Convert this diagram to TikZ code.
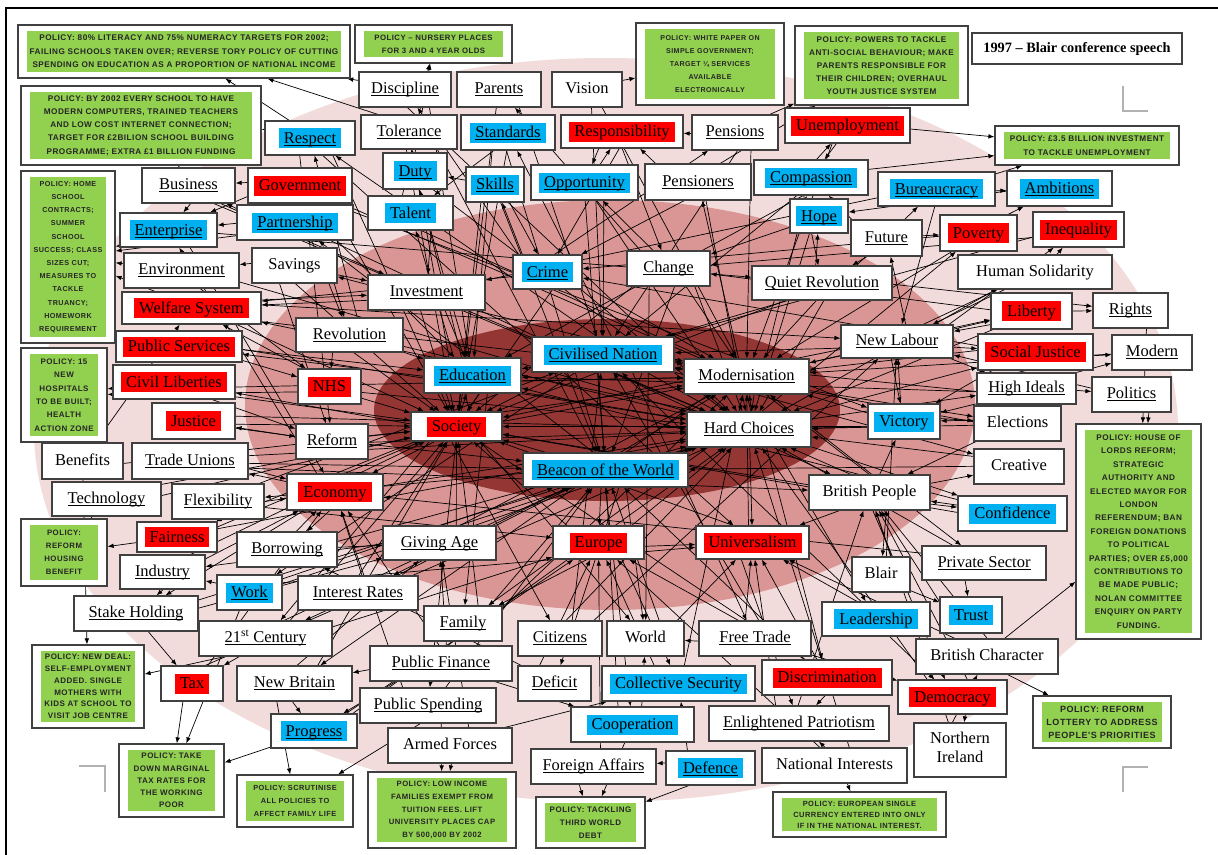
\documentclass[tikz,border=0pt]{standalone}
\usepackage{fontspec}
\setmainfont{Liberation Serif}
\newfontfamily\polfont[LetterSpace=6]{Liberation Sans}
\usetikzlibrary{arrows.meta}

\definecolor{hlblue}{HTML}{00B0F0}
\definecolor{hlred}{HTML}{FF0000}
\definecolor{polgreen}{HTML}{92D050}
\definecolor{ringA}{HTML}{F2DCDB}
\definecolor{ringB}{HTML}{D99694}
\definecolor{ringC}{HTML}{943634}
\definecolor{boxline}{HTML}{404040}

\pgfdeclarelayer{bg}
\pgfdeclarelayer{edges}
\pgfsetlayers{bg,edges,main}

% underlined word, rule just below the baseline
\newcommand\undl[1]{\setbox0\hbox{#1}\rlap{\rule[-2.4pt]{\wd0}{0.9pt}}\box0}
% coloured highlight behind a word
\newcommand\hlc[2]{{\setlength\fboxsep{0pt}\colorbox{#1}{\rule[-5pt]{0pt}{20pt}\hspace{5pt}#2\hspace{5pt}}}}
\newcommand\hlB[1]{\hlc{hlblue}{#1}}
\newcommand\hlR[1]{\hlc{hlred}{#1}}

% concept box given by its corners: [options]{name}{x1}{y1}{x2}{y2}{text}
\newcommand\cn[7][]{\node[cbox,#1,minimum width={(#5)-(#3)},minimum height={(#6)-(#4)}] (#2) at ({((#3)+(#5))/2},{((#4)+(#6))/2}) {#7};}
% policy box: [{size}{baselineskip}]{name}{x1}{y1}{x2}{y2}{text}
\newcommand\pol[7][{7}{13}]{%
  \node[pbox,minimum width={(#5)-(#3)},minimum height={(#6)-(#4)}] (#2) at ({((#3)+(#5))/2},{((#4)+(#6))/2}) {};
  \node[pgreen,font=\polfont\bfseries\fontsize#1\selectfont,minimum width={(#5)-(#3)-18},minimum height={(#6)-(#4)-12}] (#2-in) at (#2.center) {#7};}

\begin{document}
\begin{tikzpicture}[x=1pt,y=-1pt,
  cbox/.style={draw=boxline,line width=1.2pt,fill=white,inner sep=0pt,
    font=\fontsize{16.5}{19}\selectfont,
    execute at begin node={\vrule width 0pt height 12.5pt depth 4.5pt\relax}},
  pbox/.style={draw=boxline,line width=1.2pt,fill=white,inner sep=0pt},
  pgreen/.style={fill=polgreen,inner sep=0pt,align=center,text=black!85},
  arr/.style={-{Latex[length=6pt,width=4.6pt]},line width=0.7pt,black},
  corner/.style={draw=black!30,line width=1.3pt}]

\useasboundingbox (0,0) rectangle (1218,854);

% paper and nested rings
\begin{pgfonlayer}{bg}
\fill[white] (0,0) rectangle (1218,854);
\fill[ringA] (606,430) ellipse [x radius=572pt, y radius=372pt];
\fill[ringB] (610,405) ellipse [x radius=365pt, y radius=205pt];
\fill[ringC] (607,410) ellipse [x radius=233pt, y radius=91pt];
\end{pgfonlayer}

% page frame and crop marks
\draw[line width=2.6pt] (6,870) -- (6,8) -- (1230,8);
\draw[corner] (1123,86) -- (1123,111) -- (1148,111);
\draw[corner] (79,766) -- (105,766) -- (105,792);
\draw[corner] (1123,792) -- (1123,767) -- (1148,767);

% title
\node[draw=boxline,line width=1.2pt,fill=white,inner sep=0pt,minimum width=210,minimum height=31,
  font=\bfseries\fontsize{14.3}{16}\selectfont] (title) at (1077,48.5) {1997 – Blair conference speech};

% policy boxes
\pol[{8.2}{13.4}]{pLit}{18}{25}{350}{78}{POLICY: 80\% LITERACY AND 75\% NUMERACY TARGETS FOR 2002;\\FAILING SCHOOLS TAKEN OVER; REVERSE TORY POLICY OF CUTTING\\SPENDING ON EDUCATION AS A PROPORTION OF NATIONAL INCOME}
\pol[{7.8}{13}]{pNurs}{355}{25}{512}{63}{POLICY – NURSERY PLACES\\FOR 3 AND 4 YEAR OLDS}
\pol[{7.1}{13}]{pWhite}{636}{23}{784}{105}{POLICY: WHITE PAPER ON\\SIMPLE GOVERNMENT;\\TARGET ¼ SERVICES\\AVAILABLE\\ELECTRONICALLY}
\pol[{8.2}{13}]{pAnti}{795}{26}{968}{105}{POLICY: POWERS TO TACKLE\\ANTI-SOCIAL BEHAVIOUR; MAKE\\PARENTS RESPONSIBLE FOR\\THEIR CHILDREN; OVERHAUL\\YOUTH JUSTICE SYSTEM}
\pol[{8.2}{13.5}]{pUnemp}{995}{126}{1179}{165}{POLICY: £3.5 BILLION INVESTMENT\\TO TACKLE UNEMPLOYMENT}
\pol[{8.2}{13.2}]{pComp}{21}{86}{261}{165}{POLICY: BY 2002 EVERY SCHOOL TO HAVE\\MODERN COMPUTERS, TRAINED TEACHERS\\AND LOW COST INTERNET CONNECTION;\\TARGET FOR £2BILION SCHOOL BUILDING\\PROGRAMME; EXTRA £1 BILLION FUNDING}
\pol[{7.2}{13.2}]{pHome}{21}{171}{115}{343}{POLICY: HOME\\SCHOOL\\CONTRACTS;\\SUMMER\\SCHOOL\\SUCCESS; CLASS\\SIZES CUT;\\MEASURES TO\\TACKLE\\TRUANCY;\\HOMEWORK\\REQUIREMENT}
\pol[{8}{13.3}]{pHosp}{21}{348}{107}{442}{POLICY: 15\\NEW\\HOSPITALS\\TO BE BUILT;\\HEALTH\\ACTION ZONE}
\pol[{7.8}{13}]{pHousing}{21}{519}{107}{586}{POLICY:\\REFORM\\HOUSING\\BENEFIT}
\pol[{8}{11.8}]{pNewdeal}{32}{645}{144}{728}{POLICY: NEW DEAL:\\SELF-EMPLOYMENT\\ADDED. SINGLE\\MOTHERS WITH\\KIDS AT SCHOOL TO\\VISIT JOB CENTRE}
\pol[{8}{12.2}]{pTax}{119}{744}{224}{817}{POLICY: TAKE\\DOWN MARGINAL\\TAX RATES FOR\\THE WORKING\\POOR}
\pol[{7.4}{13}]{pFamily}{237}{775}{353}{827}{POLICY: SCRUTINISE\\ALL POLICIES TO\\AFFECT FAMILY LIFE}
\pol[{7.7}{12.6}]{pTuition}{368}{772}{516}{848}{POLICY: LOW INCOME\\FAMILIES EXEMPT FROM\\TUITION FEES. LIFT\\UNIVERSITY PLACES CAP\\BY 500,000 BY 2002}
\pol[{8}{13}]{pDebt}{536}{797}{645}{848}{POLICY: TACKLING\\THIRD WORLD\\DEBT}
\pol[{7.5}{11}]{pEuro}{773}{792}{946}{837}{POLICY: EUROPEAN SINGLE\\CURRENCY ENTERED INTO ONLY\\IF IN THE NATIONAL INTEREST.}
\pol[{9}{13}]{pLottery}{1033}{696}{1171}{748}{POLICY: REFORM\\LOTTERY TO ADDRESS\\PEOPLE'S PRIORITIES}
\pol[{8.2}{13.4}]{pLords}{1076}{424}{1201}{639}{POLICY: HOUSE OF\\LORDS REFORM;\\STRATEGIC\\AUTHORITY AND\\ELECTED MAYOR FOR\\LONDON\\REFERENDUM; BAN\\FOREIGN DONATIONS\\TO POLITICAL\\PARTIES; OVER £5,000\\CONTRIBUTIONS TO\\BE MADE PUBLIC;\\NOLAN COMMITTEE\\ENQUIRY ON PARTY\\FUNDING.}

% concept boxes
\cn{discipline}{359}{72}{451}{107}{\undl{Discipline}}
\cn{parents}{457}{72}{541}{107}{\undl{Parents}}
\cn{vision}{552}{72}{622}{107}{Vision}
\cn{respect}{265}{121}{355}{155}{\hlB{\undl{Respect}}}
\cn{tolerance}{361}{115}{457}{149}{\undl{Tolerance}}
\cn{standards}{461}{115}{555}{150}{\hlB{\undl{Standards}}}
\cn{resp}{561}{115}{683}{148}{\hlR{Responsibility}}
\cn{pensions}{692}{115}{778}{150}{\undl{Pensions}}
\cn{unemp}{785}{108}{910}{143}{\hlR{Unemployment}}
\cn{duty}{383}{153}{447}{189}{\hlB{\undl{Duty}}}
\cn{skills}{466}{167}{524}{202}{\hlB{\undl{Skills}}}
\cn{opp}{531}{165}{638}{200}{\hlB{\undl{Opportunity}}}
\cn{pensioners}{645}{164}{751}{200}{\undl{Pensioners}}
\cn{compassion}{754}{160}{868}{195}{\hlB{\undl{Compassion}}}
\cn{business}{142}{168}{235}{203}{\undl{Business}}
\cn{gov}{248}{168}{352}{203}{\hlR{Government}}
\cn{talent}{368}{196}{453}{230}{\hlB{Talent}}
\cn{partner}{237}{205}{353}{240}{\hlB{\undl{Partnership}}}
\cn{enterprise}{120}{213}{217}{247}{\hlB{\undl{Enterprise}}}
\cn{env}{124}{253}{239}{288}{\undl{Environment}}
\cn{savings}{252}{248}{337}{283}{Savings}
\cn{bureau}{878}{172}{995}{206}{\hlB{\undl{Bureaucracy}}}
\cn{ambitions}{1007}{171}{1112}{206}{\hlB{\undl{Ambitions}}}
\cn{hope}{790}{199}{848}{233}{\hlB{\undl{Hope}}}
\cn{future}{851}{220}{922}{256}{\undl{Future}}
\cn{poverty}{940}{215}{1017}{251}{\hlR{Poverty}}
\cn{inequality}{1033}{212}{1124}{247}{\hlR{Inequality}}
\cn{solidarity}{958}{255}{1112}{289}{Human Solidarity}
\cn{crime}{513}{255}{582}{289}{\hlB{\undl{Crime}}}
\cn{change}{627}{251}{710}{286}{\undl{Change}}
\cn{quietrev}{752}{266}{892}{300}{\undl{Quiet Revolution}}
\cn{investment}{368}{275}{485}{310}{\undl{Investment}}
\cn{welfare}{122}{292}{261}{324}{\hlR{Welfare System}}
\cn{revolution}{296}{318}{403}{352}{\undl{Revolution}}
\cn{pubservices}{116}{331}{242}{362}{\hlR{Public Services}}
\cn{civlib}{113}{365}{235}{399}{\hlR{Civil Liberties}}
\cn{nhs}{298}{369}{361}{404}{\hlR{NHS}}
\cn{education}{424}{358}{521}{393}{\hlB{\undl{Education}}}
\cn{civnation}{532}{337}{674}{372}{\hlB{\undl{Civilised Nation}}}
\cn{modern}{684}{359}{809}{394}{\undl{Modernisation}}
\cn{newlabour}{841}{325}{953}{358}{\undl{New Labour}}
\cn{liberty}{991}{293}{1072}{329}{\hlR{Liberty}}
\cn{rights}{1093}{293}{1168}{328}{\undl{Rights}}
\cn{socjustice}{978}{334}{1093}{370}{\hlR{Social Justice}}
\cn{modernw}{1112}{335}{1192}{370}{\undl{Modern}}
\cn{highideals}{977}{373}{1076}{404}{\undl{High Ideals}}
\cn{politics}{1092}{377}{1171}{412}{\undl{Politics}}
\cn{victory}{868}{404}{940}{439}{\hlB{Victory}}
\cn{elections}{974}{406}{1061}{441}{Elections}
\cn{creative}{974}{449}{1064}{484}{Creative}
\cn{confidence}{958}{496}{1067}{531}{\hlB{Confidence}}
\cn{privsector}{922}{546}{1046}{580}{\undl{Private Sector}}
\cn{hardchoices}{687}{412}{811}{447}{\undl{Hard Choices}}
\cn{society}{411}{412}{502}{441}{\hlR{Society}}
\cn{reform}{296}{424}{368}{459}{\undl{Reform}}
\cn{justice}{152}{403}{235}{439}{\hlR{Justice}}
\cn{benefits}{42}{443}{123}{479}{Benefits}
\cn{tradeunions}{132}{443}{248}{479}{\undl{Trade Unions}}
\cn{technology}{52}{482}{161}{516}{\undl{Technology}}
\cn{flexibility}{172}{484}{264}{519}{\undl{Flexibility}}
\cn{economy}{287}{474}{383}{510}{\hlR{Economy}}
\cn{beacon}{523}{453}{688}{487}{\hlB{\undl{Beacon of the World}}}
\cn{britpeople}{809}{475}{930}{510}{British People}
\cn{fairness}{137}{522}{217}{552}{\hlR{Fairness}}
\cn{borrowing}{237}{532}{337}{567}{\undl{Borrowing}}
\cn{givingage}{383}{526}{496}{560}{\undl{Giving Age}}
\cn{europe}{553}{526}{644}{559}{\hlR{Europe}}
\cn{universalism}{696}{526}{809}{559}{\hlR{Universalism}}
\cn{blair}{852}{557}{910}{592}{Blair}
\cn{industry}{120}{555}{205}{589}{\undl{Industry}}
\cn{work}{217}{575}{282}{610}{\hlB{\undl{Work}}}
\cn{interest}{298}{576}{418}{610}{\undl{Interest Rates}}
\cn{stake}{74}{596}{198}{631}{\undl{Stake Holding}}
\cn{century}{199}{621}{332}{656}{\undl{21\textsuperscript{st} Century}}
\cn{family}{424}{606}{502}{641}{\undl{Family}}
\cn{citizens}{518}{621}{602}{656}{\undl{Citizens}}
\cn{world}{607}{621}{684}{656}{World}
\cn{freetrade}{699}{621}{811}{656}{\undl{Free Trade}}
\cn{leadership}{822}{602}{930}{636}{\hlB{Leadership}}
\cn{trust}{940}{597}{1002}{633}{\hlB{Trust}}
\cn{britchar}{916}{639}{1058}{674}{British Character}
\cn{tax}{161}{666}{223}{701}{\hlR{Tax}}
\cn{newbritain}{237}{666}{352}{701}{\undl{New Britain}}
\cn{pubfinance}{370}{646}{512}{681}{\undl{Public Finance}}
\cn{deficit}{518}{666}{591}{701}{\undl{Deficit}}
\cn{collsec}{602}{666}{755}{701}{\hlB{Collective Security}}
\cn{discrim}{762}{660}{892}{695}{\hlR{Discrimination}}
\cn{democracy}{898}{680}{1007}{714}{\hlR{Democracy}}
\cn{progress}{271}{714}{357}{748}{\hlB{\undl{Progress}}}
\cn{pubspending}{360}{688}{496}{723}{\undl{Public Spending}}
\cn{coop}{571}{707}{694}{742}{\hlB{Cooperation}}
\cn{enlpat}{709}{706}{889}{741}{\undl{Enlightened Patriotism}}
\cn{armed}{388}{728}{512}{763}{Armed Forces}
\cn{foreign}{531}{749}{656}{784}{\undl{Foreign Affairs}}
\cn{defence}{666}{751}{755}{785}{\hlB{\undl{Defence}}}
\cn{natint}{762}{748}{907}{783}{National Interests}
\cn[align=center,execute at begin node={}]{nireland}{914}{723}{1006}{777}{Northern\\Ireland}

% links between concepts; each link leaves its source box from a slightly offset point
\begin{pgfonlayer}{edges}
\pgfmathsetseed{1997}
\foreach \a/\b in {
% rim: policies and neighbours
gov/business,business/pComp,respect/pComp,respect/pLit,tolerance/pLit,discipline/pLit,duty/pNurs,talent/pNurs,vision/pWhite,pensions/pAnti,pensioners/pAnti,unemp/pUnemp,compassion/pUnemp,bureau/pUnemp,bureau/ambitions,future/poverty,poverty/ambitions,solidarity/inequality,unemp/compassion,pensions/resp,resp/opp,opp/resp,pensioners/resp,crime/pensions,compassion/unemp,future/compassion,
enterprise/pHome,partner/pHome,env/pHome,welfare/pHome,nhs/pHosp,civlib/pHosp,fairness/pHousing,technology/pHousing,benefits/pNewdeal,century/pNewdeal,
gov/enterprise,partner/enterprise,business/enterprise,partner/business,savings/env,skills/duty,standards/talent,investment/welfare,crime/welfare,reform/justice,revolution/nhs,
tax/pTax,work/pTax,progress/pTax,newbritain/pFamily,pubspending/pFamily,armed/pTuition,pubspending/pTuition,foreign/pDebt,coop/pDebt,defence/pDebt,defence/foreign,natint/pEuro,natint/enlpat,discrim/enlpat,freetrade/democracy,freetrade/world,leadership/democracy,democracy/nireland,work/industry,industry/stake,stake/tax,century/tax,newbritain/progress,pubfinance/progress,pubfinance/newbritain,pubfinance/coop,interest/century,
britchar/pLords,britchar/pLottery,nireland/britchar,privsector/trust,blair/trust,politics/pLords,rights/pLords,highideals/modernw,socjustice/modernw,highideals/politics,liberty/rights,newlabour/liberty,newlabour/socjustice,newlabour/solidarity,newlabour/highideals,victory/elections,elections/victory,britpeople/creative,britpeople/confidence,victory/newlabour,newlabour/victory,britpeople/victory,
% core
education/society,society/education,society/economy,quietrev/modern,modern/hardchoices,hardchoices/modern,beacon/europe,europe/universalism,hardchoices/universalism,britpeople/universalism,change/world,education/family,society/citizens,civnation/education,civnation/modern,civnation/hardchoices,civnation/society,beacon/hardchoices,beacon/society,education/hardchoices,society/modern,crime/society,crime/hardchoices,change/modern,change/society,change/beacon,quietrev/hardchoices,quietrev/civnation,investment/education,investment/society,investment/modern,revolution/society,revolution/education,nhs/society,reform/society,reform/beacon,givingage/society,givingage/hardchoices,europe/hardchoices,universalism/modern,britpeople/hardchoices,britpeople/modern,victory/hardchoices,victory/modern,newlabour/modern,newlabour/civnation,
% upper ring
discipline/education,parents/civnation,vision/civnation,vision/modern,respect/society,respect/reform,tolerance/society,standards/education,standards/beacon,duty/education,talent/investment,skills/beacon,skills/crime,opp/civnation,opp/hardchoices,resp/change,resp/crime,pensions/modern,pensioners/hardchoices,pensioners/crime,compassion/quietrev,compassion/civnation,unemp/modern,hope/hardchoices,hope/change,future/quietrev,bureau/newlabour,poverty/modern,inequality/civnation,solidarity/newlabour,solidarity/hardchoices,gov/education,gov/revolution,business/investment,partner/revolution,enterprise/economy,env/nhs,savings/investment,savings/reform,
society/talent,education/duty,civnation/respect,modern/gov,beacon/partner,crime/skills,civnation/standards,change/opp,hardchoices/pensioners,modern/compassion,quietrev/hope,newlabour/future,quietrev/bureau,hardchoices/poverty,newlabour/inequality,education/tolerance,economy/enterprise,investment/savings,revolution/respect,crime/discipline,change/parents,
% left ring
welfare/society,welfare/investment,pubservices/nhs,pubservices/education,civlib/society,civlib/reform,justice/society,justice/reform,benefits/welfare,tradeunions/economy,tradeunions/beacon,technology/modern,flexibility/economy,flexibility/civnation,fairness/society,borrowing/givingage,borrowing/economy,industry/economy,work/beacon,interest/economy,stake/givingage,century/beacon,tax/economy,newbritain/givingage,progress/europe,
hardchoices/welfare,nhs/welfare,education/pubservices,society/civlib,economy/tradeunions,beacon/flexibility,society/fairness,economy/borrowing,givingage/industry,civnation/work,beacon/interest,economy/stake,society/century,modern/newbritain,
% lower ring
family/society,family/beacon,citizens/civnation,citizens/hardchoices,world/beacon,world/universalism,freetrade/europe,freetrade/universalism,collsec/europe,collsec/modern,coop/world,coop/beacon,enlpat/britpeople,enlpat/universalism,natint/europe,natint/hardchoices,defence/collsec,armed/collsec,armed/givingage,pubspending/economy,pubspending/beacon,pubfinance/economy,pubfinance/givingage,deficit/borrowing,deficit/europe,discrim/society,discrim/universalism,democracy/britpeople,democracy/hardchoices,leadership/universalism,blair/newlabour,blair/britpeople,trust/britpeople,privsector/hardchoices,britchar/britpeople,britchar/universalism,nireland/britpeople,foreign/europe,
hardchoices/family,society/world,civnation/freetrade,europe/collsec,beacon/coop,universalism/enlpat,hardchoices/discrim,britpeople/democracy,hardchoices/leadership,britpeople/blair,modern/privsector,beacon/deficit,society/pubspending,europe/family,beacon/world,
% right ring
liberty/newlabour,liberty/hardchoices,socjustice/victory,socjustice/modern,highideals/civnation,highideals/victory,elections/hardchoices,elections/britpeople,creative/hardchoices,creative/beacon,confidence/britpeople,confidence/society,modernw/modern,politics/newlabour,ambitions/hope,
modern/liberty,hardchoices/socjustice,civnation/creative,hardchoices/confidence,quietrev/rights,hardchoices/highideals,modern/elections,
% long cross links
respect/universalism,gov/victory,partner/britpeople,enterprise/quietrev,welfare/newlabour,tradeunions/britpeople,flexibility/europe,work/universalism,century/europe,interest/beacon,family/modern,citizens/newlabour,freetrade/civnation,discrim/beacon,leadership/civnation,privsector/economy,confidence/education,elections/civnation,highideals/education,socjustice/crime,liberty/change,poverty/crime,inequality/change,bureau/investment,compassion/education,pensions/civnation,opp/beacon,talent/modern,duty/hardchoices,tolerance/beacon,discipline/hardchoices,standards/society,parents/society,skills/society,gov/society,business/hardchoices,savings/society,env/hardchoices,welfare/modern,pubservices/hardchoices,civlib/modern,justice/hardchoices,tradeunions/hardchoices,benefits/society,technology/society,fairness/hardchoices,industry/society,stake/hardchoices,tax/hardchoices,newbritain/society,progress/hardchoices,century/society,work/hardchoices,interest/society,borrowing/hardchoices,givingage/modern,europe/society,universalism/society,britpeople/society,victory/society,newlabour/society,quietrev/society,change/hardchoices,crime/modern,investment/hardchoices,revolution/hardchoices,nhs/hardchoices,reform/hardchoices,economy/hardchoices,beacon/modern,education/modern,civnation/beacon}
{
  \pgfmathsetmacro\dx{22*rand}
  \pgfmathsetmacro\dy{7*rand}
  \draw[arr] ([shift={(\dx,\dy)}]\a.center) -- (\b);
}
\end{pgfonlayer}

\end{tikzpicture}
\end{document}
